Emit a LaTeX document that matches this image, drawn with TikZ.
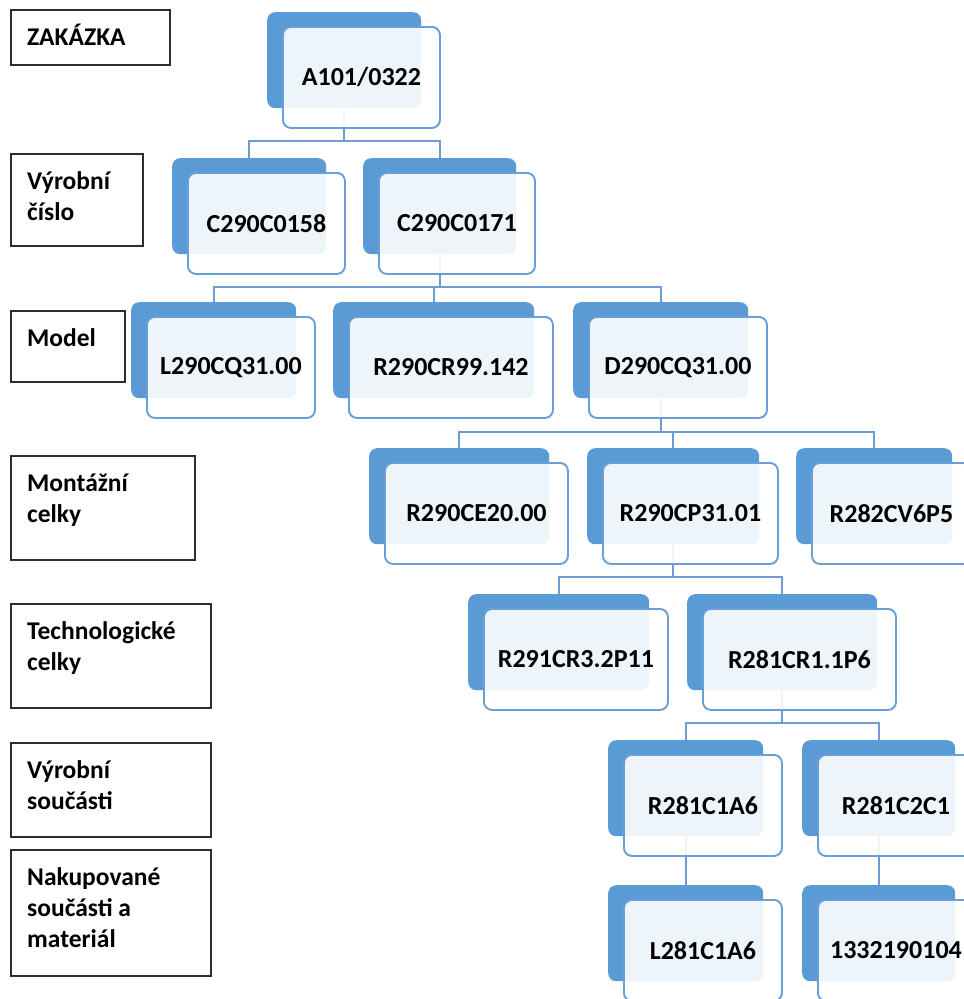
\documentclass[tikz,border=0pt]{standalone}
\usepackage{fontspec}
\setmainfont{Carlito}
\usetikzlibrary{calc}

\definecolor{cardblue}{HTML}{5B9BD5}
\definecolor{cardedge}{HTML}{6A9FD6}
\definecolor{linkblue}{HTML}{6C9DD2}
\definecolor{framegray}{HTML}{2E2E2E}

\tikzset{
  backcard/.style={fill=cardblue, draw=none, rounded corners=8pt,
    minimum height=96pt, anchor=north west, inner sep=0pt},
  frontcard/.style={fill=white, fill opacity=0.9, text opacity=1,
    draw=cardedge, draw opacity=1, line width=1.9pt, rounded corners=8pt,
    minimum height=101pt, anchor=north west, inner sep=0pt,
    font=\fontsize{26}{30}\selectfont\bfseries},
  link/.style={draw=linkblue, line width=1.9pt},
  levelbox/.style={draw=framegray, line width=2pt, anchor=north west,
    inner sep=0pt},
  leveltext/.style={anchor=north west, inner sep=0pt, align=left,
    font=\fontsize{25.5}{31}\selectfont\bfseries},
}

% back card: name, x, y, width
\newcommand\cardback[4]{%
  \node[backcard, minimum width=#4pt] (#1-b) at (#2,#3) {};}
% front card: name, width of back card, text
\newcommand\cardfront[3]{%
  \node[frontcard, minimum width={#2pt+3pt}] (#1)
    at ([shift={(15,14)}]#1-b.north west) {#3};}
% level label: name, x, y, width, height, text
\newcommand\levellabel[6]{%
  \node[levelbox, minimum width=#4pt, minimum height=#5pt] (#1) at (#2,#3) {};
  \node[leveltext] (#1-t) at ([shift={(17,10)}]#1.north west)
    {\rule{0pt}{26pt}#6};}

\begin{document}
\begin{tikzpicture}[x=1pt, y=-1pt]
  \fill[white] (0,0) rectangle (964,999);
  \useasboundingbox (0,0) rectangle (964,999);

  % level captions on the left
  \levellabel{lz}{10}{9}{159}{55}{ZAKÁZKA}
  \levellabel{lv}{10}{153}{132}{92}{Výrobní\\číslo}
  \levellabel{lm}{10}{310}{114}{71}{Model}
  \levellabel{lmc}{10}{455}{184}{104}{Montážní\\celky}
  \levellabel{ltc}{10}{603}{200}{104}{Technologické\\celky}
  \levellabel{lvs}{10}{742}{200}{94}{Výrobní\\součásti}
  \levellabel{lns}{10}{849}{200}{126}{Nakupované\\součásti a\\materiál}

  % back cards
  \cardback{top}{267}{12}{154}
  \cardback{c158}{172}{158}{154}
  \cardback{c171}{363}{158}{153}
  \cardback{l290}{131}{302}{165}
  \cardback{r290cr}{333}{302}{201}
  \cardback{d290}{573}{302}{175}
  \cardback{r290ce}{369}{448}{180}
  \cardback{r290cp}{587}{448}{172}
  \cardback{r282}{796}{448}{156}
  \cardback{r291}{468}{594}{181}
  \cardback{r281cr}{687}{594}{190}
  \cardback{c1a6}{608}{740}{155}
  \cardback{c2c1}{802}{740}{153}
  \cardback{l281}{608}{885}{155}
  \cardback{n1332}{802}{885}{153}

  % tree connectors
  \coordinate (bus1) at (0,141);
  \coordinate (bus2) at (0,287);
  \coordinate (bus3) at (0,432);
  \coordinate (bus4) at (0,577);
  \coordinate (bus5) at (0,723);

  \draw[link] (top-b.south) -- (top-b.south |- bus1) -| (c158-b.north);
  \draw[link] (top-b.south |- bus1) -| (c171-b.north);

  \draw[link] (c171-b.south) -- (c171-b.south |- bus2) -| (l290-b.north);
  \draw[link] (c171-b.south |- bus2) -| (r290cr-b.north);
  \draw[link] (c171-b.south |- bus2) -| (d290-b.north);

  \draw[link] (d290-b.south) -- (d290-b.south |- bus3) -| (r290ce-b.north);
  \draw[link] (d290-b.south |- bus3) -| (r290cp-b.north);
  \draw[link] (d290-b.south |- bus3) -| (r282-b.north);

  \draw[link] (r290cp-b.south) -- (r290cp-b.south |- bus4) -| (r291-b.north);
  \draw[link] (r290cp-b.south |- bus4) -| (r281cr-b.north);

  \draw[link] (r281cr-b.south) -- (r281cr-b.south |- bus5) -| (c1a6-b.north);
  \draw[link] (r281cr-b.south |- bus5) -| (c2c1-b.north);

  \draw[link] (c1a6-b.south) -- (l281-b.north);
  \draw[link] (c2c1-b.south) -- (n1332-b.north);

  % front cards with the item numbers
  \cardfront{top}{154}{A101/0322}
  \cardfront{c158}{154}{C290C0158}
  \cardfront{c171}{153}{C290C0171}
  \cardfront{l290}{165}{L290CQ31.00}
  \cardfront{r290cr}{201}{R290CR99.142}
  \cardfront{d290}{175}{D290CQ31.00}
  \cardfront{r290ce}{180}{R290CE20.00}
  \cardfront{r290cp}{172}{R290CP31.01}
  \cardfront{r282}{156}{R282CV6P5}
  \cardfront{r291}{181}{R291CR3.2P11}
  \cardfront{r281cr}{190}{R281CR1.1P6}
  \cardfront{c1a6}{155}{R281C1A6}
  \cardfront{c2c1}{153}{R281C2C1}
  \cardfront{l281}{155}{L281C1A6}
  \cardfront{n1332}{153}{1332190104}
\end{tikzpicture}
\end{document}
